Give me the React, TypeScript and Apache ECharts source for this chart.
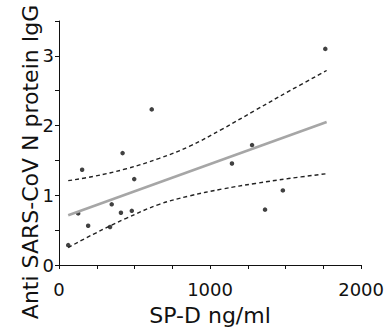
import React, { useEffect, useRef } from "react";
import * as echarts from "echarts";

const spdX = [61, 127, 153, 193, 338, 349, 410, 421, 482, 498, 614, 1145, 1278, 1364, 1482, 1763];
const iggY = [0.285, 0.74, 1.366, 0.562, 0.545, 0.87, 0.75, 1.605, 0.777, 1.232, 2.232, 1.456, 1.72, 0.794, 1.07, 3.1];

const fitX = [61, 1772];
const fitY = [0.715, 2.05];

const upperX = [61, 226, 445, 664, 862, 1081, 1300, 1520, 1772];
const upperY = [1.21, 1.27, 1.38, 1.53, 1.7, 1.95, 2.22, 2.49, 2.79];
const lowerX = [61, 226, 445, 664, 862, 1081, 1300, 1520, 1772];
const lowerY = [0.25, 0.44, 0.67, 0.87, 0.99, 1.09, 1.17, 1.24, 1.31];

const xTickLabels = ["0", "1000", "2000"];
const yTickLabels = ["0", "1", "2", "3"];
const xTitle = "SP-D ng/ml";
const yTitle = "Anti SARS-CoV N protein IgG";

const zip = (xs: number[], ys: number[]) => xs.map((x, i) => [x, ys[i]]);

export default function App() {
  const ref = useRef<HTMLDivElement>(null);
  useEffect(() => {
    if (!ref.current) return;
    const chart = echarts.init(ref.current, null, { renderer: "svg" });
    const font = "DejaVu Sans";
    chart.setOption({
      animation: false,
      backgroundColor: "#ffffff",
      grid: { left: 59, right: 24, top: 21, bottom: 49, containLabel: false },
      graphic: [
        {
          type: "text",
          x: 30,
          y: 162,
          rotation: Math.PI / 2,
          style: {
            text: yTitle,
            fontFamily: font,
            fontSize: 22,
            fill: "#111",
            align: "center",
            verticalAlign: "middle",
          },
        },
      ],
      xAxis: {
        type: "value",
        min: 0,
        max: 2000,
        interval: 250,
        name: xTitle,
        nameLocation: "middle",
        nameGap: 39,
        nameTextStyle: { fontFamily: font, fontSize: 22, color: "#111" },
        axisLine: { show: true, lineStyle: { color: "#111", width: 1 } },
        axisTick: { show: true, length: 4, lineStyle: { color: "#111" } },
        splitLine: { show: false },
        axisLabel: {
          margin: 15,
          fontFamily: font,
          fontSize: 18,
          color: "#111",
          formatter: (v: number) => (xTickLabels.includes(String(v)) ? String(v) : ""),
        },
      },
      yAxis: {
        type: "value",
        min: 0,
        max: 3.5,
        interval: 0.5,
        axisLine: { show: true, lineStyle: { color: "#111", width: 1 } },
        axisTick: { show: true, length: 4, lineStyle: { color: "#111" } },
        splitLine: { show: false },
        axisLabel: {
          margin: 5,
          fontFamily: font,
          fontSize: 18,
          color: "#111",
          formatter: (v: number) => (yTickLabels.includes(String(v)) ? String(v) : ""),
        },
      },
      series: [
        {
          type: "scatter",
          data: zip(spdX, iggY),
          symbol: "circle",
          symbolSize: 4.5,
          itemStyle: { color: "#111" },
        },
        {
          type: "line",
          data: zip(fitX, fitY),
          showSymbol: false,
          lineStyle: { color: "#a6a6a6", width: 2.6 },
        },
        {
          type: "line",
          data: zip(upperX, upperY),
          smooth: 0.4,
          showSymbol: false,
          lineStyle: { color: "#222", width: 1.4, type: [4, 3] },
        },
        {
          type: "line",
          data: zip(lowerX, lowerY),
          smooth: 0.4,
          showSymbol: false,
          lineStyle: { color: "#222", width: 1.4, type: [4, 3] },
        },
      ],
    });
    return () => chart.dispose();
  }, []);
  return <div ref={ref} style={{ width: 387, height: 331, position: "absolute", left: 0, top: 0 }} />;
}
